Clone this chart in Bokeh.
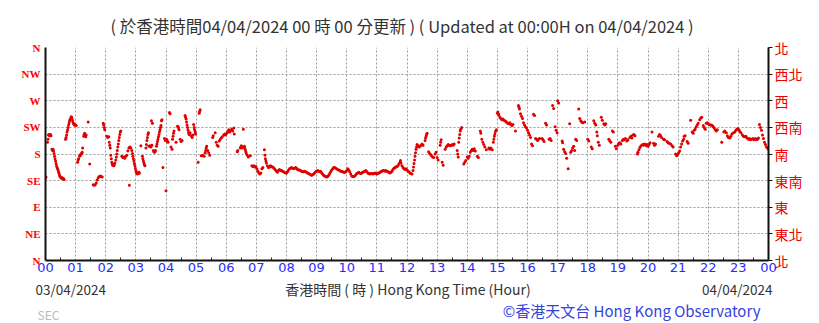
from bokeh.plotting import figure
from bokeh.models import FixedTicker, LinearAxis, ColumnDataSource, Range1d, Title, Label
from bokeh.layouts import column
from bokeh.embed import file_html
from bokeh.resources import INLINE

# (minute of day, wind direction in degrees), grouped by hour
hour_00 = [(0,140),(1,141),(4,200),(5,205),(6,212),(7,213),(8,211),(9,212),(10,213),(11,211),(13,188),(14,186),(15,188),(16,185),(17,181),(18,176),(19,172),(20,168),(21,164),(22,160),(23,157),(24,155),(25,153),(26,150),(27,147),(28,144),(29,142),(30,141),(31,140),(32,139),(33,140),(34,139),(35,138),(36,138),(37,137),(40,205),(41,208),(42,212),(43,217),(44,221),(45,225),(46,229),(47,233),(48,236),(49,238),(50,240),(51,243),(52,242),(53,239),(54,236),(55,233),(56,231),(57,230),(58,229),(59,229)]
hour_01 = [(60,229),(61,228),(64,166),(65,170),(66,172),(68,176),(69,178),(70,179),(71,180),(72,181),(73,183),(74,190),(76,210),(77,213),(78,215),(79,212),(80,209),(81,212),(85,234),(88,163),(95,128),(97,127),(99,128),(101,131),(103,136),(105,140),(107,142),(109,143),(111,142),(113,141),(115,232),(116,229),(117,225),(118,221)]
hour_02 = [(122,210),(124,208),(126,209),(127,200),(128,195),(129,190),(130,178),(131,172),(132,166),(133,163),(134,161),(136,160),(137,162),(138,165),(140,170),(141,175),(142,180),(143,186),(144,192),(145,197),(146,203),(147,208),(148,213),(149,217),(150,219),(152,176),(154,174),(156,175),(158,173),(160,176),(162,178),(164,185),(166,190),(167,127),(168,192),(170,190),(172,186),(173,181),(174,176),(175,172),(176,168),(177,164),(178,160),(179,156)]
hour_03 = [(180,152),(181,149),(182,147),(183,146),(184,148),(185,147),(186,149),(187,148),(190,194),(193,176),(194,172),(195,168),(196,165),(197,162),(198,160),(200,190),(201,196),(202,203),(203,208),(204,213),(205,216),(206,193),(208,194),(210,192),(211,236),(212,195),(213,232),(215,186),(216,184),(217,183),(218,184),(219,186),(221,193),(222,197),(223,201),(224,205),(225,209),(226,213),(227,217),(228,221),(229,225),(230,228),(231,236),(232,238),(234,157),(237,206),(239,203)]
hour_04 = [(240,118),(241,205),(242,203),(243,201),(244,200),(247,250),(248,248),(250,192),(252,188),(253,205),(254,210),(255,215),(256,219),(260,200),(263,227),(264,226),(265,224),(266,221),(268,205),(270,201),(272,203),(278,245),(279,242),(280,239),(281,234),(282,229),(283,225),(284,220),(285,216),(286,213),(288,216),(290,211),(292,208),(294,212),(295,230),(296,225),(297,221),(298,217),(299,214)]
hour_05 = [(304,166),(306,249),(307,252),(308,255),(310,177),(312,177),(314,178),(316,176),(318,182),(319,186),(320,190),(321,193),(323,186),(325,182),(327,178),(333,208),(334,211),(338,216),(340,200),(342,195),(344,193),(346,202),(348,205),(350,207),(352,209),(355,212),(357,214),(359,212)]
hour_06 = [(361,215),(363,218),(365,221),(367,217),(369,220),(371,222),(373,219),(375,224),(376,214),(382,184),(383,186),(388,190),(389,192),(390,194),(391,192),(392,190),(394,222),(396,193),(397,190),(398,187),(399,184),(400,181),(402,178),(404,175),(408,177),(411,160),(413,159),(415,160),(417,158),(419,159)]
hour_07 = [(421,155),(423,151),(425,148),(427,146),(429,148),(431,155),(433,157),(436,187),(437,178),(438,172),(439,168),(440,165),(442,160),(444,157),(446,158),(448,160),(450,159),(452,158),(454,157),(456,155),(458,153),(460,151),(462,149),(464,152),(466,154),(468,152),(470,152),(472,151),(474,150),(476,149),(478,148)]
hour_08 = [(480,148),(482,150),(484,153),(486,155),(488,156),(490,157),(492,156),(494,155),(496,156),(498,157),(500,156),(502,154),(504,153),(506,153),(508,152),(510,151),(512,150),(514,150),(516,151),(518,150),(520,149),(522,148),(524,147),(526,146),(528,145),(530,144),(532,145),(534,146),(536,148),(538,150)]
hour_09 = [(540,151),(542,152),(544,151),(546,150),(548,151),(550,148),(552,146),(554,144),(556,143),(558,142),(560,141),(562,142),(564,144),(566,147),(568,150),(570,153),(572,155),(574,157),(576,157),(578,156),(580,155),(582,154),(584,153),(586,152),(588,151),(590,151),(592,150),(594,149),(596,149),(598,150)]
hour_10 = [(600,152),(602,155),(604,153),(606,150),(608,146),(610,143),(612,142),(614,142),(616,143),(618,145),(620,147),(622,148),(624,149),(626,148),(628,147),(630,148),(632,149),(634,150),(636,151),(638,152),(640,150),(642,148),(644,147),(646,146),(648,147),(650,147),(652,146),(654,147),(656,148),(658,147)]
hour_11 = [(660,146),(662,147),(664,148),(666,149),(668,150),(670,151),(672,152),(674,152),(676,151),(678,152),(680,151),(682,150),(684,149),(686,148),(688,149),(690,151),(692,154),(694,156),(696,157),(698,158),(700,159),(702,160),(704,163),(706,166),(707,169),(708,165),(710,160),(712,157),(714,155),(716,154),(718,155)]
hour_12 = [(720,153),(722,151),(724,150),(726,148),(728,147),(730,146),(732,152),(733,158),(734,164),(735,170),(736,176),(737,182),(738,188),(739,192),(740,196),(742,194),(744,192),(746,193),(748,195),(750,197),(752,195),(756,203),(757,207),(758,210),(759,213),(760,215),(763,184),(765,181),(767,179),(769,177),(771,175),(773,174),(776,180),(778,183)]
hour_13 = [(780,174),(782,170),(786,195),(787,200),(788,204),(790,166),(792,161),(796,188),(798,192),(800,194),(802,196),(804,195),(806,194),(808,195),(810,196),(812,195),(814,197),(820,186),(821,180),(822,175),(823,200),(824,207),(825,213),(826,219),(827,222),(829,225),(833,163),(835,166),(837,169)]
hour_14 = [(840,175),(842,173),(844,176),(846,183),(848,186),(850,188),(852,186),(854,189),(856,185),(860,176),(862,174),(866,219),(867,215),(869,205),(871,200),(873,196),(875,192),(878,187),(883,190),(885,188),(887,190),(890,187),(892,200),(893,205),(894,210),(895,214),(896,218),(898,221)]
hour_15 = [(900,249),(901,251),(902,248),(903,246),(905,242),(907,240),(909,238),(911,239),(913,237),(915,236),(917,235),(919,233),(921,232),(923,231),(925,233),(927,230),(929,228),(931,230),(936,219),(942,262),(943,259),(944,256),(946,248),(948,244),(950,240),(952,233),(954,229),(956,226),(958,224)]
hour_16 = [(960,220),(962,216),(964,212),(966,208),(968,197),(970,194),(972,247),(974,245),(976,206),(978,205),(980,203),(982,205),(984,206),(989,206),(991,204),(993,201),(996,232),(998,229),(1003,205),(1005,206),(1007,203),(1010,262),(1012,257),(1015,226),(1017,220),(1019,216)]
hour_17 = [(1020,270),(1022,266),(1029,202),(1030,199),(1032,188),(1034,184),(1036,181),(1038,173),(1041,155),(1044,231),(1046,183),(1048,186),(1050,190),(1052,193),(1054,186),(1056,205),(1058,203),(1062,256),(1064,240),(1066,236),(1068,234),(1070,233),(1074,234)]
hour_18 = [(1080,205),(1082,202),(1087,192),(1089,189),(1092,236),(1094,232),(1096,229),(1098,217),(1099,211),(1101,200),(1103,195),(1107,242),(1109,237),(1112,231),(1114,229),(1116,231),(1122,205),(1124,202),(1126,200),(1129,219),(1131,217),(1135,193),(1137,189)]
hour_19 = [(1140,195),(1142,198),(1144,199),(1146,197),(1149,203),(1151,205),(1153,204),(1155,206),(1158,202),(1160,204),(1164,208),(1166,210),(1168,207),(1170,212),(1172,213),(1174,211),(1179,180),(1180,183),(1182,187),(1184,191),(1186,194),(1189,196),(1191,195),(1193,197),(1195,196),(1197,194),(1198,196)]
hour_20 = [(1200,193),(1202,196),(1204,199),(1208,217),(1211,198),(1213,195),(1215,197),(1221,210),(1223,213),(1225,211),(1227,208),(1231,205),(1233,204),(1238,201),(1240,199),(1242,198),(1245,197),(1248,194),(1250,192),(1255,180),(1257,177),(1259,179)]
hour_21 = [(1261,182),(1263,185),(1265,192),(1267,197),(1269,202),(1271,205),(1272,210),(1274,211),(1278,201),(1280,198),(1285,237),(1288,217),(1290,215),(1292,220),(1294,222),(1296,226),(1298,229),(1300,232),(1303,238),(1305,241),(1307,242),(1310,228),(1312,225),(1314,222),(1316,232),(1318,233)]
hour_22 = [(1320,231),(1322,230),(1324,229),(1326,229),(1328,228),(1330,226),(1332,224),(1334,221),(1336,219),(1338,221),(1347,200),(1351,217),(1353,219),(1356,216),(1358,211),(1360,208),(1363,207),(1365,210),(1367,214),(1370,216),(1373,217),(1375,220),(1377,222),(1379,223)]
hour_23 = [(1381,221),(1383,218),(1385,216),(1388,212),(1390,210),(1392,209),(1395,210),(1397,207),(1400,205),(1402,206),(1404,204),(1406,205),(1409,206),(1411,204),(1414,206),(1416,204),(1418,205),(1420,207),(1422,230),(1424,225),(1426,220),(1428,212),(1430,206),(1432,200),(1434,196),(1436,192),(1438,190),(1440,188)]

hour_ticks = list(range(25))
hour_labels = ["00","01","02","03","04","05","06","07","08","09","10","11","12",
               "13","14","15","16","17","18","19","20","21","22","23","00"]
dir_ticks = [0, 45, 90, 135, 180, 225, 270, 315, 360]
dir_labels_en = ["N", "NE", "E", "SE", "S", "SW", "W", "NW", "N"]
dir_labels_zh = ["北", "東北", "東", "東南", "南", "西南", "西", "西北", "北"]

title_text = "( 於香港時間04/04/2024 00 時 00 分更新 ) ( Updated at 00:00H on 04/04/2024 )"
start_date = "03/04/2024"
end_date = "04/04/2024"
x_title = "香港時間 ( 時 )  Hong Kong Time (Hour)"
credit = "©香港天文台 Hong Kong Observatory"
tag = "SEC"

all_obs = (hour_00 + hour_01 + hour_02 + hour_03 + hour_04 + hour_05 + hour_06 + hour_07 +
           hour_08 + hour_09 + hour_10 + hour_11 + hour_12 + hour_13 + hour_14 + hour_15 +
           hour_16 + hour_17 + hour_18 + hour_19 + hour_20 + hour_21 + hour_22 + hour_23)
src = ColumnDataSource(dict(hour=[m / 60.0 for m, d in all_obs], deg=[d for m, d in all_obs]))

FONT = "Noto Sans CJK TC"
W = 815
MAIN_H = 278

p = figure(width=W, height=MAIN_H, x_range=Range1d(0, 24), y_range=Range1d(0, 360),
           output_backend="svg", toolbar_location=None,
           min_border_left=45, min_border_right=47, min_border_top=47, min_border_bottom=18)
p.outline_line_color = None
p.background_fill_color = "white"
p.border_fill_color = "white"

p.add_layout(Title(text=title_text, align="left", text_font=FONT, text_font_size="16.5px",
                   text_font_style="normal", text_color="#333333", standoff=20, offset=65), "above")

# grids
p.xaxis.ticker = FixedTicker(ticks=hour_ticks, minor_ticks=[h + 0.5 for h in range(24)])
p.yaxis.ticker = FixedTicker(ticks=dir_ticks)
for g in (p.xgrid, p.ygrid):
    g.grid_line_color = "#9a9a9a"
    g.grid_line_dash = "2 2"
    g.grid_line_width = 1

# bottom axis
xa = p.xaxis[0]
xa.major_label_overrides = {t: l for t, l in zip(hour_ticks, hour_labels)}
xa.major_label_text_color = "#2a2aff"
xa.major_label_text_font = "DejaVu Sans"
xa.major_label_text_font_size = "13px"
xa.major_label_standoff = 2
xa.major_tick_in = 0
xa.major_tick_out = 0
xa.minor_tick_in = 3
xa.minor_tick_out = 0
xa.minor_tick_line_color = "#222222"
xa.axis_line_width = 2
xa.axis_line_color = "#111111"

# left axis
ya = p.yaxis[0]
ya.major_label_overrides = {t: l for t, l in zip(dir_ticks, dir_labels_en)}
ya.major_label_text_color = "#ff0000"
ya.major_label_text_font = "Liberation Serif"
ya.major_label_text_font_style = "bold"
ya.major_label_text_font_size = "11px"
ya.major_label_standoff = 5
ya.major_tick_in = 0
ya.major_tick_out = 0
ya.minor_tick_line_color = None
ya.axis_line_width = 2
ya.axis_line_color = "#111111"

# right axis
ra = LinearAxis(ticker=FixedTicker(ticks=dir_ticks))
ra.major_label_overrides = {t: l for t, l in zip(dir_ticks, dir_labels_zh)}
ra.major_label_text_color = "#ee0000"
ra.major_label_text_font = FONT
ra.major_label_text_font_size = "14px"
ra.major_label_standoff = 2
ra.major_tick_in = 0
ra.major_tick_out = 4
ra.major_tick_line_color = "#111111"
ra.minor_tick_line_color = None
ra.axis_line_width = 2
ra.axis_line_color = "#111111"
p.add_layout(ra, "right")

p.scatter("hour", "deg", source=src, marker="circle", size=3.0,
          fill_color="#e00000", line_color=None)

# footer strip: pixel-like coordinates, y measured downward from its top
FH = 45
f = figure(width=W, height=FH, x_range=Range1d(0, W), y_range=Range1d(FH, 0),
           x_axis_type=None, y_axis_type=None, output_backend="svg", toolbar_location=None,
           min_border=0)
try:
    f.frame_align = False
    p.frame_align = False
except Exception:
    pass
f.outline_line_color = None
f.background_fill_color = "white"
f.border_fill_color = "white"
f.grid.visible = False

def add_text(x, y, text, color, size, align):
    f.add_layout(Label(x=x, y=y, text=text, text_color=color, text_font=FONT,
                       text_font_size=size, text_align=align, text_baseline="middle"))

add_text(35, 10.5, start_date, "#333333", "13.5px", "left")
add_text(409, 10.5, x_title, "#333333", "14px", "center")
add_text(772, 10.5, end_date, "#333333", "13.5px", "right")
add_text(760, 32, credit, "#3344dd", "15px", "right")
add_text(37, 35.5, tag, "#bbbbbb", "12px", "left")

layout = column(p, f, spacing=0)
open("out.html", "w").write(file_html(layout, INLINE))
